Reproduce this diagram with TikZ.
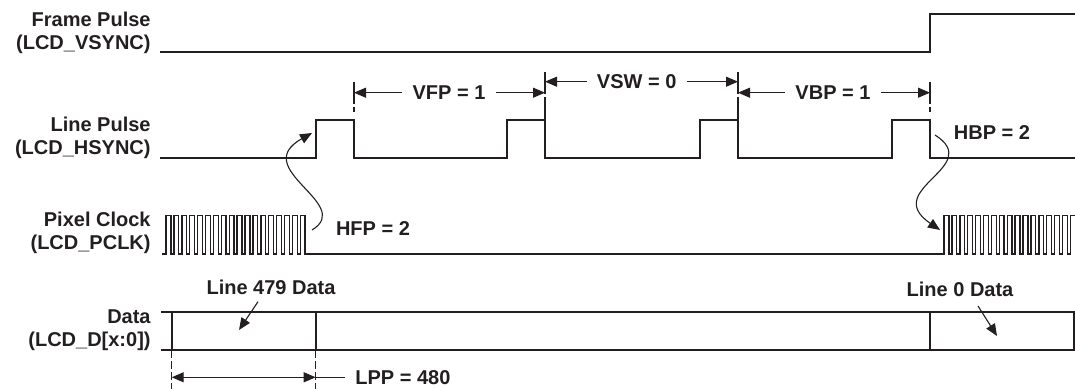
\documentclass[tikz,border=0pt]{standalone}
\usepackage{fontspec}
\setmainfont{Liberation Sans}
\usepackage{xcolor}
\usepackage{tikz}
\usetikzlibrary{arrows.meta}
\definecolor{sigblack}{HTML}{231F20}
\tikzset{every node/.append style={font=\bfseries\fontsize{10}{11.5}\selectfont,text=sigblack,inner sep=0pt},
  sig/.style={sigblack,line width=1.2pt},
  clk/.style={sigblack,line width=0.7pt},
  dimarr/.style={sigblack,line width=0.55pt,->},
  tickline/.style={sigblack,line width=0.55pt,dash pattern=on 11pt off 1.5pt},
  dropline/.style={sigblack,line width=0.55pt,dash pattern=on 4pt off 1.5pt},
  curvy/.style={sigblack,line width=0.55pt,->},
  signame/.style={anchor=east,align=right},
  dimlbl/.style={inner xsep=5pt}}

\begin{document}
\begin{tikzpicture}[>={Triangle[length=6pt,width=5pt]},x=0.5pt,y=0.5pt]
  % Units are pixels of the 1075 by 389 frame, counted upwards.
  \useasboundingbox (0,0) rectangle (1075,389);
  \node[signame] (vsyncname) at (151,355.7) {Frame Pulse\\(LCD\_VSYNC)};
  \node[signame] (hsyncname) at (151,250.7) {Line Pulse\\(LCD\_HSYNC)};
  \node[signame] (pclkname) at (151,155.7) {Pixel Clock\\(LCD\_PCLK)};
  \node[signame] (dataname) at (151,58.7) {Data\\(LCD\_D[x:0])};

  \draw[sig] (160,337) -- (930,337) -- (930,375) -- (1075,375);
  \draw[sig] (160,231) \foreach \up/\dn in {316/354,507/545,700/738,892/930}
    { -- (\up,231) -- (\up,269) -- (\dn,269) -- (\dn,231) } -- (1075,231);
  \draw[clk] (162,135) \foreach \i in {0,...,17}
    { -- ({166+7.9*\i},135) -- ({166+7.9*\i},173.5) -- ({170.8+7.9*\i},173.5) -- ({170.8+7.9*\i},135) }
    -- (944,135) \foreach \i in {0,...,16}
    { -- ({944+7.9*\i},135) -- ({944+7.9*\i},173.5) -- ({948.8+7.9*\i},173.5) -- ({948.8+7.9*\i},135) };
  \draw[sig] (161,77) -- (1075,77) (161,39) -- (1075,39);
  \foreach \x in {171.7,315.7,930,1074} \draw[sig] (\x,39) -- (\x,77);
  \foreach \x in {171.7,315.7} \draw[dropline] (\x,39) -- (\x,0);

  \draw[tickline] (354,307.3) -- (354,277.3);
  \draw[tickline] (545,317.3) -- (545,269);
  \draw[tickline] (738,317.3) -- (738,269);
  \draw[tickline] (930,307.3) -- (930,277.3);
  \coordinate (vfpL) at (354,296.3); \coordinate (vfpR) at (545,296.3);
  \coordinate (vswL) at (545,307.3); \coordinate (vswR) at (738,307.3);
  \coordinate (vbpL) at (738,296.3); \coordinate (vbpR) at (930,296.3);
  \node[dimlbl] (vfp) at (449,296.3) {VFP = 1};
  \node[dimlbl] (vsw) at (636.7,307.3) {VSW = 0};
  \node[dimlbl] (vbp) at (833,296.3) {VBP = 1};
  \draw[dimarr] (vfp) -- (vfpL); \draw[dimarr] (vfp) -- (vfpR);
  \draw[dimarr] (vsw) -- (vswL); \draw[dimarr] (vsw) -- (vswR);
  \draw[dimarr] (vbp) -- (vbpL); \draw[dimarr] (vbp) -- (vbpR);

  \node (hfp) at (373,160.7) {HFP = 2};
  \node (hbp) at (992,256.3) {HBP = 2};
  \coordinate (hfpfoot) at (312,159); \coordinate (hfptip) at (312,256);
  \draw[curvy] (hfpfoot) .. controls (355,185) and (248,220) .. (hfptip);
  \coordinate (hbpfoot) at (935,254); \coordinate (hbptip) at (940,159);
  \draw[curvy] (hbpfoot) .. controls (985,222) and (880,200) .. (hbptip);

  \node (line479) at (271,102) {Line 479 Data};
  \node (line0) at (960,100) {Line 0 Data};
  \coordinate (l479a) at (258,87.3); \coordinate (l479b) at (239,59);
  \draw[curvy] (l479a) -- (l479b);
  \coordinate (l0a) at (978,83); \coordinate (l0b) at (997,53);
  \draw[curvy] (l0a) -- (l0b);

  \coordinate (lppL) at (171.7,11.7); \coordinate (lppR) at (315.7,11.7);
  \draw[dimarr,<->] (lppL) -- (lppR);
  \node[anchor=west,inner xsep=5pt] (lpp) at (345,11.7) {LPP = 480};
  \draw[sigblack,line width=0.55pt] (lppR) -- (lpp);
\end{tikzpicture}
\end{document}
